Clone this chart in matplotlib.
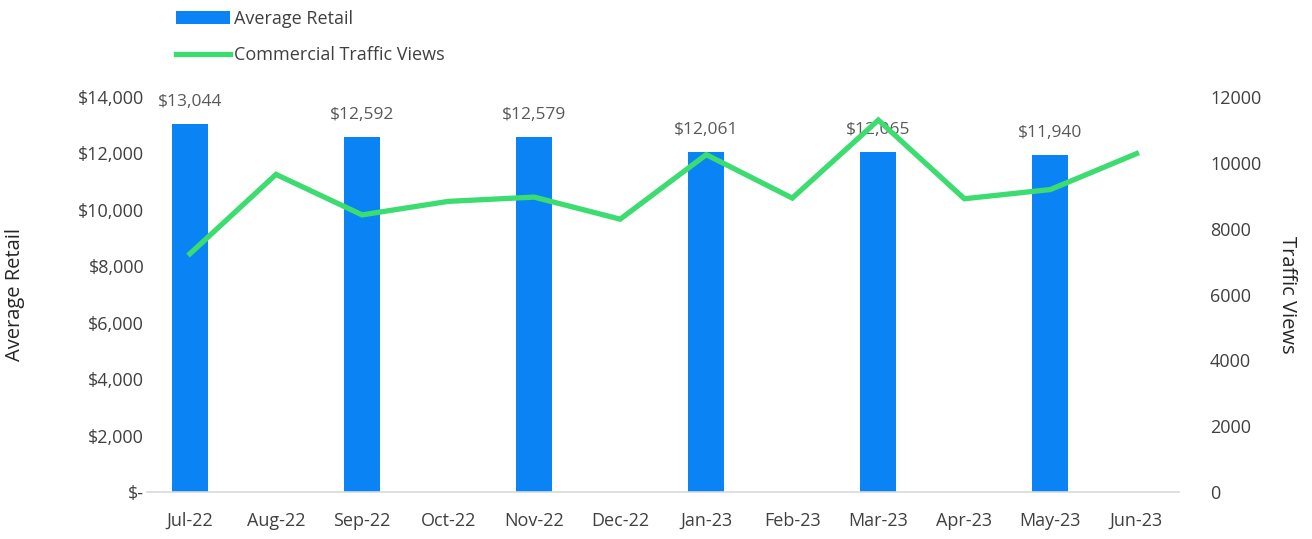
import matplotlib
matplotlib.use("Agg")
import matplotlib.pyplot as plt
import numpy as np

plt.rcParams["font.family"] = ["Open Sans", "DejaVu Sans"]

months = ["Jul-22", "Aug-22", "Sep-22", "Oct-22", "Nov-22", "Dec-22",
          "Jan-23", "Feb-23", "Mar-23", "Apr-23", "May-23", "Jun-23"]
avg_retail = [13044, np.nan, 12592, np.nan, 12579, np.nan,
              12061, np.nan, 12065, np.nan, 11940, np.nan]
traffic_views = [7240, 9650, 8420, 8830, 8960, 8290,
                 10250, 8930, 11300, 8910, 9190, 10280]
left_ticks = [0, 2000, 4000, 6000, 8000, 10000, 12000, 14000]
right_ticks = [0, 2000, 4000, 6000, 8000, 10000, 12000]

bar_col = "#0A84F5"
line_col = "#3DDC70"
txt_col = "#404040"
lbl_col = "#595959"

fig = plt.figure(figsize=(13.12, 5.39), dpi=100)
ax = fig.add_axes([0.112, 0.087, 0.787, 0.733])
ax2 = ax.twinx()

x = np.arange(len(months))
bars = ax.bar(x, avg_retail, width=0.42, color=bar_col, label="Average Retail", zorder=2)
ln, = ax2.plot(x, traffic_views, color=line_col, lw=3.8, label="Commercial Traffic Views",
               solid_joinstyle="miter", zorder=3)

# data labels above bars
for xi, v in zip(x, avg_retail):
    if not np.isnan(v):
        ax.text(xi, v + 500, f"${v:,.0f}", ha="center", va="bottom",
                fontsize=12.5, color=lbl_col)

ax.set_xlim(-0.5, len(months) - 0.5)
ax.set_ylim(0, 14000)
ax2.set_ylim(0, 12000)
ax.set_yticks(left_ticks)
ax.set_yticklabels(["$-"] + [f"${t:,}" for t in left_ticks[1:]])
ax2.set_yticks(right_ticks)
ax2.set_yticklabels([str(t) for t in right_ticks])
ax.set_xticks(x)
ax.set_xticklabels(months)

for a in (ax, ax2):
    for s in a.spines.values():
        s.set_visible(False)
    a.tick_params(length=0, labelsize=13, colors=txt_col)
ax.spines["bottom"].set_visible(True)
ax.spines["bottom"].set_color("#D9D9D9")
ax.spines["bottom"].set_linewidth(1.2)
ax.tick_params(axis="x", pad=14)
ax.tick_params(axis="y", pad=2)
ax2.tick_params(axis="y", pad=22)

ax.set_ylabel("Average Retail", fontsize=14.5, color="#262626", labelpad=38)
ax2.set_ylabel("Traffic Views", fontsize=14.5, color="#262626", rotation=270, labelpad=26)

ax2.patch.set_visible(False)
ax2.set_zorder(1)
ax.set_zorder(0)

fig.legend([bars, ln], ["Average Retail", "Commercial Traffic Views"],
           loc="upper left", bbox_to_anchor=(0.122, 1.012), frameon=False,
           fontsize=13, labelcolor=txt_col, handlelength=3.0, handletextpad=0.2,
           labelspacing=1.0)

fig.savefig("out.png", dpi=100)
